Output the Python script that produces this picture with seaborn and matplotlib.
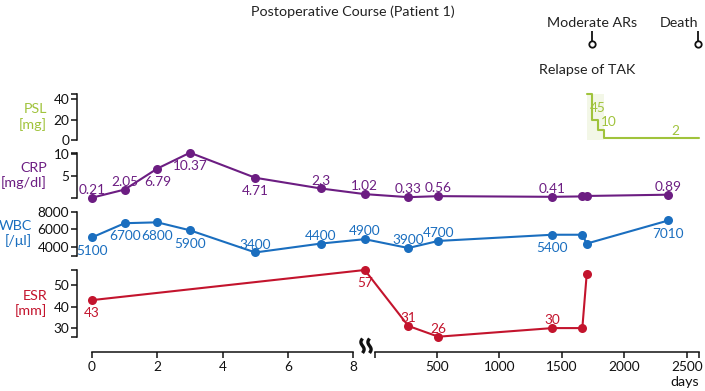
import numpy as np
import matplotlib
matplotlib.use("Agg")
import matplotlib.pyplot as plt
from matplotlib.lines import Line2D
import seaborn as sns

# ==============================================
# Data (days after surgery)
# ==============================================
crp_days = [0, 1, 2, 3, 5, 7, 8.35, 273, 513, 1425, 1665, 1700, 2353]
crp_vals = [0.21, 2.05, 6.79, 10.37, 4.71, 2.3, 1.02, 0.33, 0.56, 0.41, 0.5, 0.6, 0.89]
crp_text = ["0.21", "2.05", "6.79", "10.37", "4.71", "2.3", "1.02", "0.33", "0.56", "0.41", "", "", "0.89"]

wbc_days = [0, 1, 2, 3, 5, 7, 8.35, 273, 513, 1425, 1665, 1700, 2353]
wbc_vals = [5100, 6700, 6800, 5900, 3400, 4400, 4900, 3900, 4700, 5400, 5400, 4400, 7010]
wbc_text = ["5100", "6700", "6800", "5900", "3400", "4400", "4900", "3900", "4700", "5400", "", "", "7010"]

esr_days = [0, 8.35, 273, 513, 1425, 1665, 1700]
esr_vals = [43, 57, 31, 26, 30, 30, 55]
esr_text = ["43", "57", "31", "26", "30", "", ""]

psl_days = [1705, 1740, 1788, 1841, 2600]
psl_vals = [45, 20, 10, 2, 2]
psl_text = ["45", "", "10", "2", ""]

event_days = [1700, 1740, 2590]
event_names = ["Relapse of TAK", "Moderate ARs", "Death"]

# ==============================================
# Styling
# ==============================================
sns.set_style("ticks")
plt.rcParams["font.family"] = ["Lato", "DejaVu Sans"]
FS = 10.3      # titles / names
FN = 9.8       # numbers
plt.rcParams["font.size"] = FS
plt.rcParams["text.color"] = "#222222"

c_psl = "#a0c33c"
c_crp = "#6c1d82"
c_wbc = "#1a6ebf"
c_esr = "#c3142d"

W, H = 705, 391
fig = plt.figure(figsize=(W / 100, H / 100), dpi=100)

# broken time axis: days 0-8 stretched, later days compressed
def fwd(d):
    d = np.asarray(d, dtype=float)
    return np.where(d <= 8.674, 92 + 32.66 * d, 374.2 + 0.125 * d)

def inv(u):
    u = np.asarray(u, dtype=float)
    return np.where(u <= 375.29, (u - 92) / 32.66, (u - 374.2) / 0.125)

X0, X1 = 77.3, 699.2
DMIN, DMAX = float(inv(X0)), 2600


def make_axes(top, bottom):
    ax = fig.add_axes([X0 / W, 1 - bottom / H, (X1 - X0) / W, (bottom - top) / H])
    ax.set_xscale("function", functions=(fwd, inv))
    ax.set_xlim(DMIN, DMAX)
    ax.patch.set_alpha(0)
    return ax


def style_panel(ax, ylim, yticks, label, color, label_right):
    ax.set_ylim(*ylim)
    ax.set_yticks(yticks)
    ax.set_yticks(list(ylim), minor=True)
    ax.tick_params(axis="y", which="both", length=4.3, width=1.1, pad=1.5,
                   labelsize=FN, colors="#111111")
    for s in ["top", "right", "bottom"]:
        ax.spines[s].set_visible(False)
    ax.spines["left"].set_linewidth(1.1)
    ax.spines["left"].set_color("#111111")
    ax.tick_params(axis="x", which="both", bottom=False, labelbottom=False)
    ax.set_ylabel(label, rotation=0, ha="right", va="center", color=color, fontsize=FS)
    ax.yaxis.set_label_coords((label_right - X0) / (X1 - X0), 0.5)


def label_points(ax, days, vals, texts, sides, color):
    for d, v, t, s in zip(days, vals, texts, sides):
        if not t:
            continue
        dy = 2.7 if s == "a" else -12.4
        ax.annotate(t, (d, v), xytext=(0, dy), textcoords="offset points",
                    ha="center", va="baseline", color=color, fontsize=FN)


line_kw = dict(marker="o", markersize=6.5, markeredgewidth=0, linewidth=1.5,
               estimator=None, clip_on=False)

# ---------------- PSL ----------------
ax_psl = make_axes(93.9, 140.0)
ax_psl.axvspan(psl_days[0], psl_days[3], color=c_psl, alpha=0.12, lw=0)
sns.lineplot(x=psl_days, y=psl_vals, ax=ax_psl, color=c_psl, linewidth=1.5,
             drawstyle="steps-post", estimator=None, clip_on=False)
style_panel(ax_psl, (0, 45), [0, 20, 40], "PSL\n[mg]", c_psl, 47)
# each dose label sits next to the end of its step
psl_offsets = [(4, -12.9), None, (3.4, 2.6), (-17.4, 2.3), None]
for i, (t, o) in enumerate(zip(psl_text, psl_offsets)):
    if t:
        ax_psl.annotate(t, (psl_days[i + 1], psl_vals[i]), xytext=o,
                        textcoords="offset points", ha="center",
                        va="baseline", color=c_psl, fontsize=FN)

# ---------------- CRP ----------------
ax_crp = make_axes(152.7, 197.7)
sns.lineplot(x=crp_days, y=crp_vals, ax=ax_crp, color=c_crp, **line_kw)
style_panel(ax_crp, (0.21, 10.37), [5, 10], "CRP\n[mg/dl]", c_crp, 47)
crp_sides = ["a", "a", "b", "b", "b", "a", "a", "a", "a", "a", "a", "a", "a"]
label_points(ax_crp, crp_days, crp_vals, crp_text, crp_sides, c_crp)

# ---------------- WBC ----------------
ax_wbc = make_axes(211.7, 256.0)
sns.lineplot(x=wbc_days, y=wbc_vals, ax=ax_wbc, color=c_wbc, **line_kw)
style_panel(ax_wbc, (3000, 8000), [4000, 6000, 8000], "WBC\n[/μl]", c_wbc, 32)
wbc_sides = ["b", "b", "b", "b", "a", "a", "a", "a", "a", "b", "b", "b", "b"]
label_points(ax_wbc, wbc_days, wbc_vals, wbc_text, wbc_sides, c_wbc)

# ---------------- ESR ----------------
ax_esr = make_axes(270.0, 336.7)
sns.lineplot(x=esr_days, y=esr_vals, ax=ax_esr, color=c_esr, **line_kw)
style_panel(ax_esr, (26, 57), [30, 40, 50], "ESR\n[mm]", c_esr, 47)
esr_sides = ["b", "b", "a", "a", "a", "a", "a"]
label_points(ax_esr, esr_days, esr_vals, esr_text, esr_sides, c_esr)

# ---------------- broken x axis ----------------
def x_axis(bounds, ticks, labels):
    ax = make_axes(340.0, 351.7)
    for s in ["top", "right", "left"]:
        ax.spines[s].set_visible(False)
    ax.spines["bottom"].set_bounds(*bounds)
    ax.spines["bottom"].set_linewidth(1.1)
    ax.spines["bottom"].set_color("#111111")
    ax.set_yticks([])
    ax.set_xticks(ticks)
    ax.set_xticklabels(labels)
    ax.set_xticks(list(bounds), minor=True)
    ax.tick_params(axis="x", which="both", length=4.3, width=1.1, pad=2.5,
                   labelsize=FN, colors="#111111")
    return ax

x_axis((0, 8), [0, 2, 4, 6, 8], ["0", "2", "4", "6", "8"])
x_axis((8.7, 2600), [500, 1000, 1500, 2000, 2500], ["500", "1000", "1500", "2000", "2500"])
fig.text(699.2 / W, 1 - 382 / H, "days", ha="right", va="center", fontsize=FS, color="#111111")

# break mark
t = np.linspace(0, 1, 40)
for xc in (362.5, 369.5):
    xs = xc - 1.6 * np.sin(2 * np.pi * t)
    ys = 338.5 + 14.5 * t
    fig.add_artist(Line2D(xs / W, 1 - ys / H, transform=fig.transFigure,
                          color="#111111", lw=2.4, solid_capstyle="butt"))

# ---------------- events ----------------
ax_ev = make_axes(15.0, 80.0)
ax_ev.set_ylim(80, 15)
ax_ev.axis("off")
marked = [False, True, True]
for d, name, m in zip(event_days, event_names, marked):
    if m:
        ax_ev.vlines(d, 31, 40.5, color="#111111", lw=1.3)
        ax_ev.plot([d], [44], "o", ms=4.6, mfc="white", mec="#111111", mew=1.3, clip_on=False)
        ax_ev.text(d, 23.3, name, ha="right" if name == "Death" else "center",
                   va="center", fontsize=FS)
    else:
        ax_ev.text(d, 70, name, ha="center", va="center", fontsize=FS)

fig.text(0.5, 1 - 12 / H, "Postoperative Course (Patient 1)", ha="center", va="center",
         fontsize=FS)

fig.savefig("out.png", dpi=100)
